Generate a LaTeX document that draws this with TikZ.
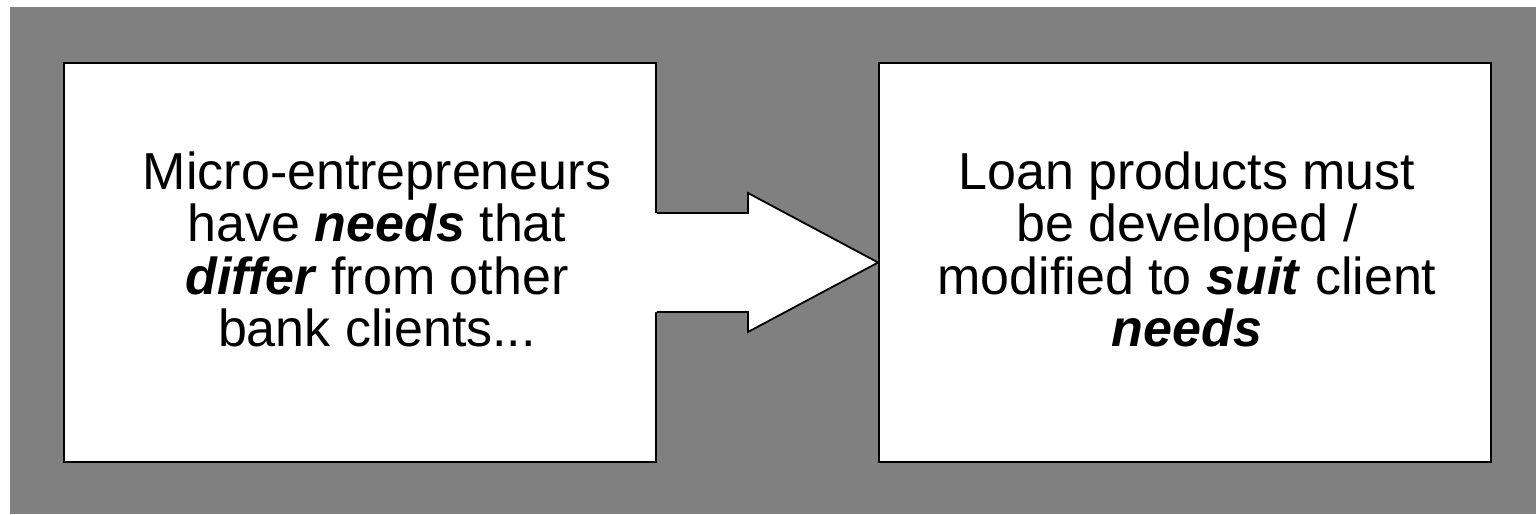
\documentclass[tikz,border=0pt]{standalone}
\usepackage{fontspec}
\setmainfont{Liberation Sans}
\usetikzlibrary{calc}
\definecolor{panelgray}{HTML}{808080}
\tikzset{
  card/.style={draw=black, fill=white, line width=1.8pt, inner sep=0pt},
  cardtext/.style={align=center, inner sep=0pt, font=\fontsize{52}{52.5}\selectfont},
  blockarrow/.style={draw=black, line width=1.8pt, line join=miter}
}
\newcommand{\keyword}[1]{\textbf{\textit{#1}}}
\begin{document}
\begin{tikzpicture}[x=1pt,y=-1pt]
  \useasboundingbox (0,0) rectangle (1536,514);
  % grey panel behind everything
  \fill[panelgray] (10,7) rectangle (1536,514);

  % the two statement cards
  \node[card, minimum width=592pt, minimum height=399pt] (cause) at (360,262.5) {};
  \node[card, minimum width=612pt, minimum height=399pt] (effect) at (1185,262.5) {};

  % block arrow joining the cards; its shaft opens into the left card
  \fill[white] ($(cause.east)+(-6,-49.5)$) -- ($(cause.east)+(91,-49.5)$)
    -- ($(cause.east)+(91,-69.5)$) -- (effect.west)
    -- ($(cause.east)+(91,69.5)$) -- ($(cause.east)+(91,49.5)$)
    -- ($(cause.east)+(-6,49.5)$) -- cycle;
  \draw[blockarrow] ($(cause.east)+(0,-49.5)$) -- ($(cause.east)+(91,-49.5)$)
    -- ($(cause.east)+(91,-69.5)$) -- (effect.west)
    -- ($(cause.east)+(91,69.5)$) -- ($(cause.east)+(91,49.5)$)
    -- ($(cause.east)+(0,49.5)$);

  % card texts
  \node[cardtext] (causetext) at ($(cause.center)+(17,-13)$)
    {Micro-entrepreneurs\\ have \keyword{needs} that\\ \keyword{differ} from other\\ bank clients...};
  \node[cardtext] (effecttext) at ($(effect.center)+(2,-13)$)
    {Loan products must\\ be developed /\\ modified to \keyword{suit} client\\ \keyword{needs}};
\end{tikzpicture}
\end{document}
